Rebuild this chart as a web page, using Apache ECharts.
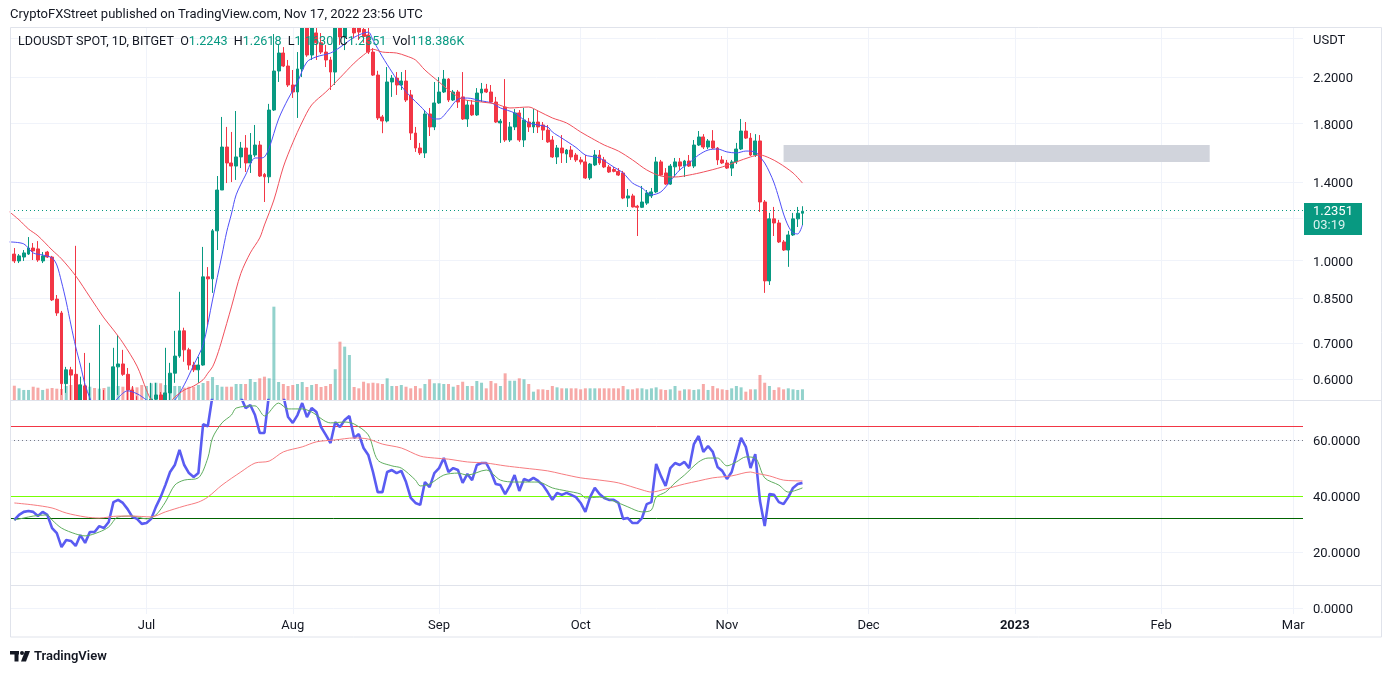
<!DOCTYPE html>
<html><head><meta charset="utf-8">
<script src="https://cdn.jsdelivr.net/npm/echarts@6/dist/echarts.min.js"></script>
<style>html,body{margin:0;padding:0;background:#fff}#c{width:1392px;height:673px}</style>
</head><body><div id="c"></div>
<script>
// ---------- DATA (daily candles from 2022-06-03 to 2022-11-17) ----------
const firstDay = '2022-06-03';
const opens = [1.027,0.997,1.014,1.027,1.054,1.050,0.997,1.036,1.014,0.846,
0.797,0.588,0.624,0.612,0.500,0.582,0.520,0.545,0.490,0.530,
0.510,0.530,0.632,0.640,0.612,0.572,0.545,0.535,0.525,0.540,
0.550,0.560,0.545,0.565,0.615,0.662,0.738,0.680,0.637,0.624,
0.637,0.931,0.923,1.135,1.353,1.628,1.520,1.500,1.560,1.621,
1.520,1.573,1.642,1.447,1.432,1.909,2.258,2.440,2.307,2.126,
2.063,2.278,2.750,2.419,2.660,2.550,2.450,2.368,2.248,2.800,
2.614,2.850,2.920,2.760,2.700,2.637,2.450,2.219,1.853,1.821,
2.154,2.190,2.126,2.163,2.037,1.729,1.621,1.587,1.877,1.775,
1.968,2.063,2.181,1.993,2.063,2.020,1.837,1.951,1.869,2.054,
2.089,2.063,1.976,1.806,1.934,1.678,1.775,1.885,1.678,1.813,
1.775,1.813,1.790,1.751,1.678,1.560,1.621,1.580,1.607,1.573,
1.540,1.527,1.425,1.507,1.573,1.540,1.494,1.478,1.466,1.456,
1.307,1.319,1.262,1.256,1.279,1.319,1.342,1.527,1.456,1.388,
1.495,1.527,1.500,1.533,1.500,1.642,1.700,1.628,1.671,1.621,
1.540,1.520,1.487,1.527,1.614,1.744,1.692,1.573,1.671,1.285,
0.915,1.195,1.174,1.082,1.045,1.115,1.195,1.2243];
const highs = [1.054,1.027,1.045,1.105,1.077,1.086,1.036,1.041,1.019,0.861,
0.804,0.632,0.632,1.064,0.606,0.671,0.643,0.547,0.757,0.572,
0.545,0.686,0.725,0.680,0.629,0.582,0.557,0.546,0.545,0.590,
0.590,0.567,0.686,0.643,0.738,0.873,0.748,0.686,0.646,0.660,
1.059,0.971,1.144,1.437,1.853,1.775,1.737,1.901,1.664,1.714,
1.729,1.790,1.671,1.456,1.960,2.648,2.525,2.503,2.368,2.268,
2.450,2.870,2.850,2.850,2.728,2.659,2.525,2.400,2.850,2.900,
2.950,3.050,2.980,2.800,2.760,2.728,2.492,2.260,1.869,2.297,
2.219,2.248,2.248,2.268,2.081,1.775,1.657,1.909,1.926,2.154,
2.200,2.268,2.190,2.081,2.081,2.248,1.993,1.993,2.098,2.145,
2.136,2.126,2.020,1.837,2.181,1.813,1.917,1.909,1.926,1.845,
1.917,1.909,1.813,1.790,1.707,1.642,1.714,1.614,1.635,1.587,
1.560,1.573,1.520,1.607,1.607,1.560,1.507,1.494,1.487,1.469,
1.359,1.331,1.269,1.377,1.353,1.365,1.560,1.540,1.487,1.513,
1.553,1.553,1.540,1.573,1.678,1.744,1.721,1.685,1.751,1.628,
1.566,1.540,1.540,1.657,1.837,1.813,1.729,1.721,1.714,1.296,
1.226,1.258,1.190,1.091,1.135,1.226,1.258,1.2618];
const lows = [0.988,0.988,0.997,1.023,1.001,0.993,0.988,1.010,0.839,0.787,
0.560,0.565,0.530,0.470,0.480,0.460,0.480,0.450,0.470,0.480,
0.490,0.500,0.560,0.608,0.540,0.530,0.520,0.510,0.500,0.520,
0.530,0.530,0.540,0.548,0.590,0.657,0.646,0.624,0.618,0.590,
0.635,0.757,0.869,1.045,1.353,1.394,1.400,1.413,1.487,1.462,
1.456,1.560,1.431,1.285,1.394,1.901,2.154,2.297,2.108,2.011,
1.845,2.200,2.400,2.368,2.368,2.430,2.297,2.081,2.126,2.525,
2.471,2.760,2.600,2.580,2.550,2.430,2.210,1.829,1.728,1.810,
2.020,2.037,2.081,1.976,1.678,1.594,1.573,1.553,1.707,1.751,
1.960,2.054,1.976,1.985,1.926,1.829,1.775,1.861,1.861,1.976,
2.054,1.968,1.806,1.657,1.664,1.664,1.751,1.664,1.628,1.737,
1.729,1.729,1.678,1.657,1.553,1.513,1.520,1.520,1.540,1.527,
1.510,1.419,1.413,1.500,1.507,1.487,1.456,1.460,1.437,1.301,
1.258,1.255,1.110,1.252,1.269,1.307,1.336,1.437,1.383,1.383,
1.431,1.475,1.431,1.494,1.487,1.635,1.614,1.614,1.614,1.507,
1.513,1.481,1.437,1.513,1.607,1.685,1.566,1.560,1.231,0.869,
0.899,1.110,1.077,1.041,0.972,1.110,1.154,1.1630];
const closes = [0.997,1.019,1.032,1.054,1.041,1.001,1.019,1.014,0.843,0.797,
0.588,0.624,0.610,0.500,0.585,0.520,0.545,0.490,0.530,0.510,
0.530,0.632,0.640,0.612,0.572,0.545,0.535,0.525,0.540,0.550,
0.560,0.545,0.565,0.615,0.662,0.738,0.680,0.637,0.624,0.637,
0.931,0.923,1.135,1.353,1.628,1.520,1.500,1.560,1.621,1.520,
1.573,1.642,1.437,1.432,1.909,2.258,2.440,2.307,2.126,2.063,
2.278,2.750,2.419,2.760,2.550,2.450,2.368,2.248,2.760,2.614,
2.850,2.920,2.660,2.670,2.620,2.450,2.219,1.845,1.821,2.154,
2.190,2.126,2.163,1.993,1.729,1.621,1.587,1.877,1.775,1.968,
2.063,2.181,1.993,2.063,1.976,1.837,1.951,1.869,2.054,2.089,
2.063,1.976,1.813,1.820,1.678,1.775,1.885,1.678,1.829,1.775,
1.813,1.775,1.751,1.664,1.560,1.621,1.587,1.607,1.560,1.540,
1.527,1.425,1.513,1.573,1.520,1.494,1.462,1.466,1.443,1.307,
1.319,1.258,1.256,1.285,1.336,1.342,1.527,1.443,1.388,1.500,
1.527,1.500,1.533,1.500,1.642,1.700,1.628,1.671,1.621,1.540,
1.520,1.487,1.527,1.614,1.744,1.692,1.573,1.671,1.285,0.915,
1.195,1.174,1.082,1.045,1.115,1.195,1.2243,1.2351];
// volume in thousands
const volumes = [158,129,111,111,147,136,111,125,133,125,
122,155,166,166,166,166,147,133,125,133,
147,155,155,147,147,140,140,166,155,185,
191,185,166,188,155,155,136,147,147,166,
188,210,254,166,147,147,147,177,177,177,
232,199,240,258,240,1032,199,177,155,166,
177,199,144,166,177,144,155,177,340,645,
590,498,144,129,202,185,191,185,177,240,
155,155,166,147,129,155,129,177,229,185,
185,177,177,147,166,202,155,155,210,191,
129,210,185,155,295,213,213,240,229,177,
92,118,118,111,155,140,129,129,129,129,
118,129,129,129,129,129,129,129,129,155,
118,118,129,129,118,129,140,118,111,118,
155,103,118,118,111,118,177,111,155,129,
118,111,129,155,140,92,118,118,277,191,
155,111,140,118,129,118,111,118.386];
const rsi = [31.4,33.2,34.3,34.6,34.3,32.8,34.3,33.2,28.5,26.7,
21.7,24.2,23.9,22.1,26.0,23.2,27.1,27.1,29.2,28.5,
30.7,37.8,38.6,37.5,35.3,32.5,31.8,30.0,30.3,31.8,
36.1,39.6,43.9,48.6,51.1,56.5,51.1,48.2,46.8,48.2,
65.7,65.0,76,80,84,80,79,81,75.5,71.5,
72.6,69.0,62.6,62.6,77,85,86,76,68.3,66.2,
69.0,73.3,68.3,71.5,70.1,64.7,61.9,59.0,66.5,64.7,
67.2,68.7,60.8,62.2,57.2,54.7,48.6,41.4,41.4,48.6,
49.3,48.2,49.0,45.0,39.3,37.5,36.8,45.0,43.2,48.2,
50.0,53.6,48.6,50.0,49.3,44.7,47.9,45.7,51.1,51.8,
51.8,48.6,44.3,43.9,40.7,43.6,47.5,41.8,46.1,45.4,
46.5,45.4,43.9,41.4,38.6,41.1,40.4,41.1,40.4,39.6,
37.5,34.3,39.6,42.9,40.7,39.3,38.6,38.6,37.5,31.8,
32.1,30.3,30.3,32.1,37.1,37.8,51.5,47.2,43.6,50.0,
51.8,51.1,52.2,50.0,58.6,61.5,55.8,57.9,55.8,50.4,
49.0,46.1,48.6,54.7,60.8,57.6,50.0,55.0,38.2,29.2,
40.7,40.4,37.8,37.1,39.6,42.9,44.3,44.7];
// moving averages: [day offset from firstDay, value]
const maFast = [[-1,1.082],[2,1.073],[4,1.032],[6,1.023],[8,1.010],[9,0.980],[10,0.911],[11,0.836],[12,0.757],[13,0.689],[14,0.637],[15,0.585],[16,0.553],[17,0.525],[18,0.505],[19,0.50],[20,0.525],[22,0.553],[24,0.570],[26,0.563],[28,0.548],[30,0.530],[32,0.535],[34,0.548],[36,0.585],[38,0.637],[40,0.695],[42,0.843],[44,1.023],[45,1.130],[46,1.220],[47,1.325],[49,1.443],[51,1.553],[52,1.553],[53,1.560],[54,1.621],[56,1.837],[58,2.002],[60,2.154],[62,2.348],[64,2.400],[67,2.44],[69,2.50],[72,2.61],[75,2.67],[76,2.58],[78,2.40],[80,2.25],[82,2.117],[84,2.02],[86,1.942],[88,1.861],[89,1.837],[90,1.837],[92,1.909],[94,2.00],[96,2.01],[99,1.985],[101,1.97],[103,1.926],[106,1.885],[109,1.806],[113,1.775],[114,1.737],[116,1.692],[119,1.625],[121,1.573],[123,1.560],[124,1.553],[127,1.494],[129,1.456],[131,1.394],[133,1.365],[135,1.325],[137,1.342],[139,1.406],[141,1.475],[143,1.520],[145,1.573],[147,1.607],[149,1.614],[151,1.594],[153,1.587],[155,1.600],[157,1.594],[158,1.560],[159,1.52],[160,1.462],[161,1.394],[162,1.307],[163,1.22],[164,1.159],[165,1.125],[166,1.12],[167,1.164]];
const maSlow = [[-1,1.231],[1,1.190],[3,1.144],[5,1.111],[8,1.045],[10,1.006],[13,0.935],[16,0.854],[19,0.780],[21,0.741],[23,0.701],[26,0.634],[28,0.572],[29,0.548],[31,0.525],[33,0.543],[34,0.555],[36,0.572],[38,0.582],[40,0.598],[41,0.615],[42,0.632],[43,0.665],[44,0.710],[46,0.818],[48,0.945],[50,1.032],[52,1.101],[53,1.164],[55,1.296],[57,1.494],[59,1.658],[61,1.813],[63,1.951],[66,2.063],[69,2.193],[72,2.336],[74,2.419],[76,2.48],[78,2.45],[81,2.44],[83,2.41],[85,2.368],[87,2.268],[90,2.154],[92,2.081],[95,2.00],[99,1.976],[102,1.96],[105,1.926],[109,1.934],[111,1.901],[114,1.845],[117,1.806],[120,1.737],[123,1.678],[125,1.642],[128,1.60],[131,1.540],[134,1.475],[137,1.437],[140,1.431],[143,1.443],[146,1.462],[150,1.494],[153,1.527],[156,1.560],[158,1.573],[160,1.553],[162,1.52],[165,1.456],[167,1.394]];
const rsiMaFast = [[0,31.4],[2,32.1],[4,32.8],[7,33.2],[8,31.4],[10,28.5],[13,26.4],[15,25.7],[18,27.1],[20,28.9],[22,32.5],[25,32.8],[28,31.8],[30,33.2],[32,37.8],[34,43.9],[36,45.7],[39,46.5],[41,53.6],[42,60.8],[44,66.2],[46,69.0],[47,71.5],[51,72.3],[53,68.7],[56,73.3],[58,71.2],[61,71.2],[63,70.1],[67,66.2],[70,66.5],[72,65.8],[75,61.9],[77,52.9],[80,50.8],[82,50.0],[85,45.7],[86,43.6],[88,44.3],[91,47.5],[94,48.2],[96,47.5],[100,49.3],[103,45.7],[106,45.0],[108,45.0],[111,45.0],[114,42.9],[117,41.8],[120,40.7],[121,39.3],[124,39.6],[127,38.2],[130,36.1],[133,34.3],[135,35.0],[136,39.6],[138,41.4],[140,44.7],[142,47.5],[145,52.2],[147,53.6],[149,53.6],[151,50.8],[153,52.2],[155,54.0],[157,53.6],[159,46.5],[162,43.9],[164,41.4],[167,42.9]];
const rsiMaSlow = [[0,37.5],[4,36.8],[8,35.7],[11,33.9],[15,32.5],[18,32.1],[22,32.8],[25,32.8],[29,32.5],[32,34.3],[36,36.4],[39,37.8],[41,39.6],[44,43.9],[48,48.6],[51,51.8],[54,52.5],[57,55.8],[61,57.6],[64,59.4],[68,60.1],[72,60.8],[75,60.4],[78,58.6],[82,57.2],[86,54.3],[89,53.6],[92,53.2],[96,52.2],[100,51.8],[104,50.8],[108,50.0],[113,49.0],[116,47.9],[120,46.5],[124,45.7],[128,44.7],[133,42.2],[135,41.4],[138,42.5],[142,44.3],[145,45.4],[148,46.5],[152,47.2],[156,48.6],[157,48.2],[160,47.2],[163,45.7],[167,45.4]];
const rsiLevels = [65, 60, 40, 32];
const zone = {start:'2022-11-13', end:'2023-02-11T07:00:00Z', top:1.642, bottom:1.527};
const priceTicks = [0.6, 0.7, 0.85, 1.0, 1.2, 1.4, 1.8, 2.2, 2.6];
const priceLabels = [0.6, 0.7, 0.85, 1.0, 1.4, 1.8, 2.2, 2.6];
const rsiTicks = [20, 40, 60];
const thirdTicks = [0];
const monthStarts = ['2022-07-01','2022-08-01','2022-09-01','2022-10-01','2022-11-01','2022-12-01','2023-01-01','2023-02-01','2023-03-01'];
const monthNames = ['2023','Feb','Mar','Apr','May','Jun','Jul','Aug','Sep','Oct','Nov','Dec'];
const lastTime = '03:19';

// ---------- BUILD ----------
const DAY = 86400000;
const t0 = Date.parse(firstDay + 'T00:00:00Z');
const ts = i => t0 + i * DAY;
const N = opens.length;
const GREEN = '#089981', RED = '#f23645';
const VG = 'rgba(38,166,154,0.5)', VR = 'rgba(239,83,80,0.5)';
const xMin = Date.UTC(2022,5,2,2,0), xMax = Date.UTC(2023,2,3,1,30);
const monthTs = monthStarts.map(s => Date.parse(s + 'T00:00:00Z'));
const FONT = 'Roboto';
const last = N - 1;

const candleData = opens.map((o, i) => [ts(i), o, closes[i], lows[i], highs[i]]);
const volData = volumes.map((v, i) => ({value: [ts(i), v], itemStyle: {color: closes[i] >= opens[i] ? VG : VR}}));
const rsiData = rsi.map((v, i) => [ts(i), v]);
const pairs = arr => arr.map(([i, v]) => [ts(i), v]);

function xAx(gi, showLabel, z) {
  return {
    type: 'value', gridIndex: gi, min: xMin, max: xMax, scale: true, z: z,
    axisLine: {show: false},
    axisTick: {show: false, customValues: monthTs},
    splitLine: {show: true, lineStyle: {color: '#f0f3fa', width: 1}},
    axisLabel: showLabel ? {
      show: true, customValues: monthTs, margin: 5, color: '#131722', fontSize: 13, fontFamily: FONT,
      formatter: v => { const d = new Date(v); const m = d.getUTCMonth(); return m === 0 ? '{b|' + d.getUTCFullYear() + '}' : monthNames[m]; },
      rich: {b: {fontWeight: 'bold', fontSize: 13, color: '#131722', fontFamily: FONT}}
    } : {show: false, customValues: monthTs}
  };
}
const yRich = {t: {fontSize: 13, fontFamily: FONT, color: '#131722', padding: [4, 0, 0, 0]}};
const yLbl = {show: true, inside: false, margin: 10, color: '#131722', fontSize: 13, fontFamily: FONT, align: 'left', rich: yRich};

const option = {
  animation: false,
  backgroundColor: '#ffffff',
  grid: [
    {left: 10, right: 89, top: 27, height: 373},
    {left: 10, right: 89, top: 400, height: 185},
    {left: 10, right: 89, top: 585, height: 29}
  ],
  xAxis: [xAx(0, false, 0), xAx(1, false, 4), xAx(2, true, 4)],
  yAxis: [
    {type: 'log', logBase: 10, gridIndex: 0, position: 'right', min: 0.548, max: 2.729, z: 0,
     axisLine: {show: false}, axisTick: {show: false, customValues: priceTicks},
     splitLine: {show: true, lineStyle: {color: '#f0f3fa'}},
     axisLabel: Object.assign({}, yLbl, {customValues: priceLabels,
       formatter: v => '{t|' + (Math.abs(v - 2.6) < 0.01 ? 'USDT' : Number(v).toFixed(4)) + '}'})},
    {type: 'value', gridIndex: 0, min: 0, max: 4125, show: false, splitLine: {show: false}},
    {type: 'value', gridIndex: 1, position: 'right', min: 8.1, max: 74.4, z: 4,
     axisLine: {show: false}, axisTick: {show: false, customValues: rsiTicks},
     splitLine: {show: true, lineStyle: {color: '#f0f3fa'}},
     axisLabel: Object.assign({}, yLbl, {customValues: rsiTicks, formatter: v => '{t|' + Number(v).toFixed(4) + '}'})},
    {type: 'value', gridIndex: 2, position: 'right', min: -0.25, max: 1, z: 4,
     axisLine: {show: false}, axisTick: {show: false, customValues: thirdTicks},
     splitLine: {show: true, lineStyle: {color: '#f0f3fa'}},
     axisLabel: Object.assign({}, yLbl, {customValues: thirdTicks, formatter: v => '{t|' + Number(v).toFixed(4) + '}'})}
  ],
  series: [
    {type: 'bar', name: 'Vol', xAxisIndex: 0, yAxisIndex: 1, data: volData, barWidth: 3, z: 1, silent: true},
    {type: 'candlestick', name: 'LDOUSDT', xAxisIndex: 0, yAxisIndex: 0, data: candleData,
     encode: {x: 0, y: [1, 2, 3, 4]}, barWidth: 3.4, z: 2, silent: true,
     itemStyle: {color: GREEN, color0: RED, borderColor: GREEN, borderColor0: RED, borderWidth: 1},
     markArea: {silent: true, itemStyle: {color: '#d1d4dc', opacity: 1},
       data: [[{xAxis: Date.parse(zone.start + 'T00:00:00Z'), yAxis: zone.top}, {xAxis: Date.parse(zone.end), yAxis: zone.bottom}]]},
     markLine: {silent: true, symbol: ['none', 'none'], animation: false,
       lineStyle: {color: GREEN, type: [1, 3], width: 1}, label: {show: false},
       data: [{yAxis: closes[last]}]}
    },
    {type: 'line', name: 'MA fast', xAxisIndex: 0, yAxisIndex: 0, data: pairs(maFast), smooth: 0.3,
     showSymbol: false, lineStyle: {color: '#4f4ff7', width: 1}, z: 4, silent: true},
    {type: 'line', name: 'MA slow', xAxisIndex: 0, yAxisIndex: 0, data: pairs(maSlow), smooth: 0.3,
     showSymbol: false, lineStyle: {color: '#f0505c', width: 1}, z: 4, silent: true},
    {type: 'line', name: 'RSI', xAxisIndex: 1, yAxisIndex: 2, data: rsiData, showSymbol: false,
     lineStyle: {color: '#5a5cf2', width: 2.6}, z: 5, silent: true,
     markLine: {silent: true, symbol: ['none', 'none'], label: {show: false},
       data: [
         {yAxis: rsiLevels[0], lineStyle: {color: '#f23645', width: 1, type: 'solid'}},
         {yAxis: rsiLevels[1], lineStyle: {color: '#787b86', width: 1, type: [1, 3]}},
         {yAxis: rsiLevels[2], lineStyle: {color: '#76ff03', width: 1, type: 'solid'}},
         {yAxis: rsiLevels[3], lineStyle: {color: '#006400', width: 1, type: 'solid'}}
       ]}},
    {type: 'line', name: 'RSI MA fast', xAxisIndex: 1, yAxisIndex: 2, data: pairs(rsiMaFast), smooth: 0.3,
     showSymbol: false, lineStyle: {color: '#5fae5f', width: 1}, z: 5, silent: true},
    {type: 'line', name: 'RSI MA slow', xAxisIndex: 1, yAxisIndex: 2, data: pairs(rsiMaSlow), smooth: 0.3,
     showSymbol: false, lineStyle: {color: '#f77c80', width: 1}, z: 5, silent: true}
  ],
  graphic: [
    // masks so candles stay inside the price pane
    {id: 'maskTop', type: 'rect', silent: true, z: 3, shape: {x: 0, y: 0, width: 1392, height: 27}, style: {fill: '#ffffff'}},
    {id: 'maskRsi', type: 'rect', silent: true, z: 3, shape: {x: 10, y: 401, width: 1293, height: 184}, style: {fill: '#ffffff'}},
    {id: 'frame', type: 'rect', silent: true, z: 6, shape: {x: 10.5, y: 27.5, width: 1371, height: 609.5},
     style: {fill: 'none', stroke: '#e0e3eb', lineWidth: 1}},
    {id: 'sep1', type: 'line', silent: true, z: 6, shape: {x1: 10, y1: 400.5, x2: 1382, y2: 400.5}, style: {stroke: '#e0e3eb', lineWidth: 1}},
    {id: 'sep2', type: 'line', silent: true, z: 6, shape: {x1: 10, y1: 585.5, x2: 1382, y2: 585.5}, style: {stroke: '#e0e3eb', lineWidth: 1}},
    {id: 'header', type: 'text', silent: true, x: 10, y: 15, z: 100,
     style: {text: 'CryptoFXStreet published on TradingView.com, Nov 17, 2022 23:56 UTC', fontSize: 13, fontFamily: FONT, fill: '#131722', verticalAlign: 'middle'}},
    {id: 'legend', type: 'text', silent: true, x: 18, y: 42, z: 100,
     style: {
       text: '{d|LDOUSDT SPOT, 1D, BITGET}  {d|O}{g|' + opens[last].toFixed(4) + '}  {d|H}{g|' + highs[last].toFixed(4) +
             '}  {d|L}{g|' + lows[last].toFixed(4) + '}  {d|C}{g|' + closes[last].toFixed(4) + '}  {d|Vol}{g|' + volumes[last].toFixed(3) + 'K}',
       fontSize: 12.6, fontFamily: FONT, verticalAlign: 'middle',
       rich: {d: {fill: '#131722', fontSize: 12.6, fontFamily: FONT}, g: {fill: GREEN, fontSize: 12.6, fontFamily: FONT}}
     }},
    {id: 'logo1', type: 'rect', silent: true, shape: {x: 10, y: 651, width: 9, height: 3.5}, style: {fill: '#131722'}},
    {id: 'logo2', type: 'rect', silent: true, shape: {x: 14.5, y: 651, width: 4, height: 10.5}, style: {fill: '#131722'}},
    {id: 'logo3', type: 'circle', silent: true, shape: {cx: 22, cy: 653, r: 2}, style: {fill: '#131722'}},
    {id: 'logo4', type: 'polygon', silent: true, shape: {points: [[25, 651], [30, 651], [26, 661.5], [21, 661.5]]}, style: {fill: '#131722'}},
    {id: 'brand', type: 'text', silent: true, x: 34, y: 657,
     style: {text: 'TradingView', fontSize: 13, fontWeight: 600, fontFamily: FONT, fill: '#131722', verticalAlign: 'middle'}},
    {id: 'lastTag', type: 'group', x: 1304, y: 0, z: 50, silent: true,
     children: [
       {type: 'rect', shape: {x: 0, y: -8, width: 58, height: 32}, style: {fill: GREEN}},
       {type: 'text', x: 9, y: 1, style: {text: closes[last].toFixed(4), fontSize: 13, fontFamily: FONT, fill: '#ffffff', verticalAlign: 'middle'}},
       {type: 'text', x: 9, y: 15, style: {text: lastTime, fontSize: 13, fontFamily: FONT, fill: '#d9f2ee', verticalAlign: 'middle'}}
     ]}
  ]
};
const chart = echarts.init(document.getElementById('c'), null, {renderer: 'canvas'});
chart.setOption(option);
// place the last-price tag through the chart's own y scale
const py = chart.convertToPixel({yAxisIndex: 0}, closes[last]);
chart.setOption({graphic: [{id: 'lastTag', y: Math.round(py)}]});
</script>
</body></html>
